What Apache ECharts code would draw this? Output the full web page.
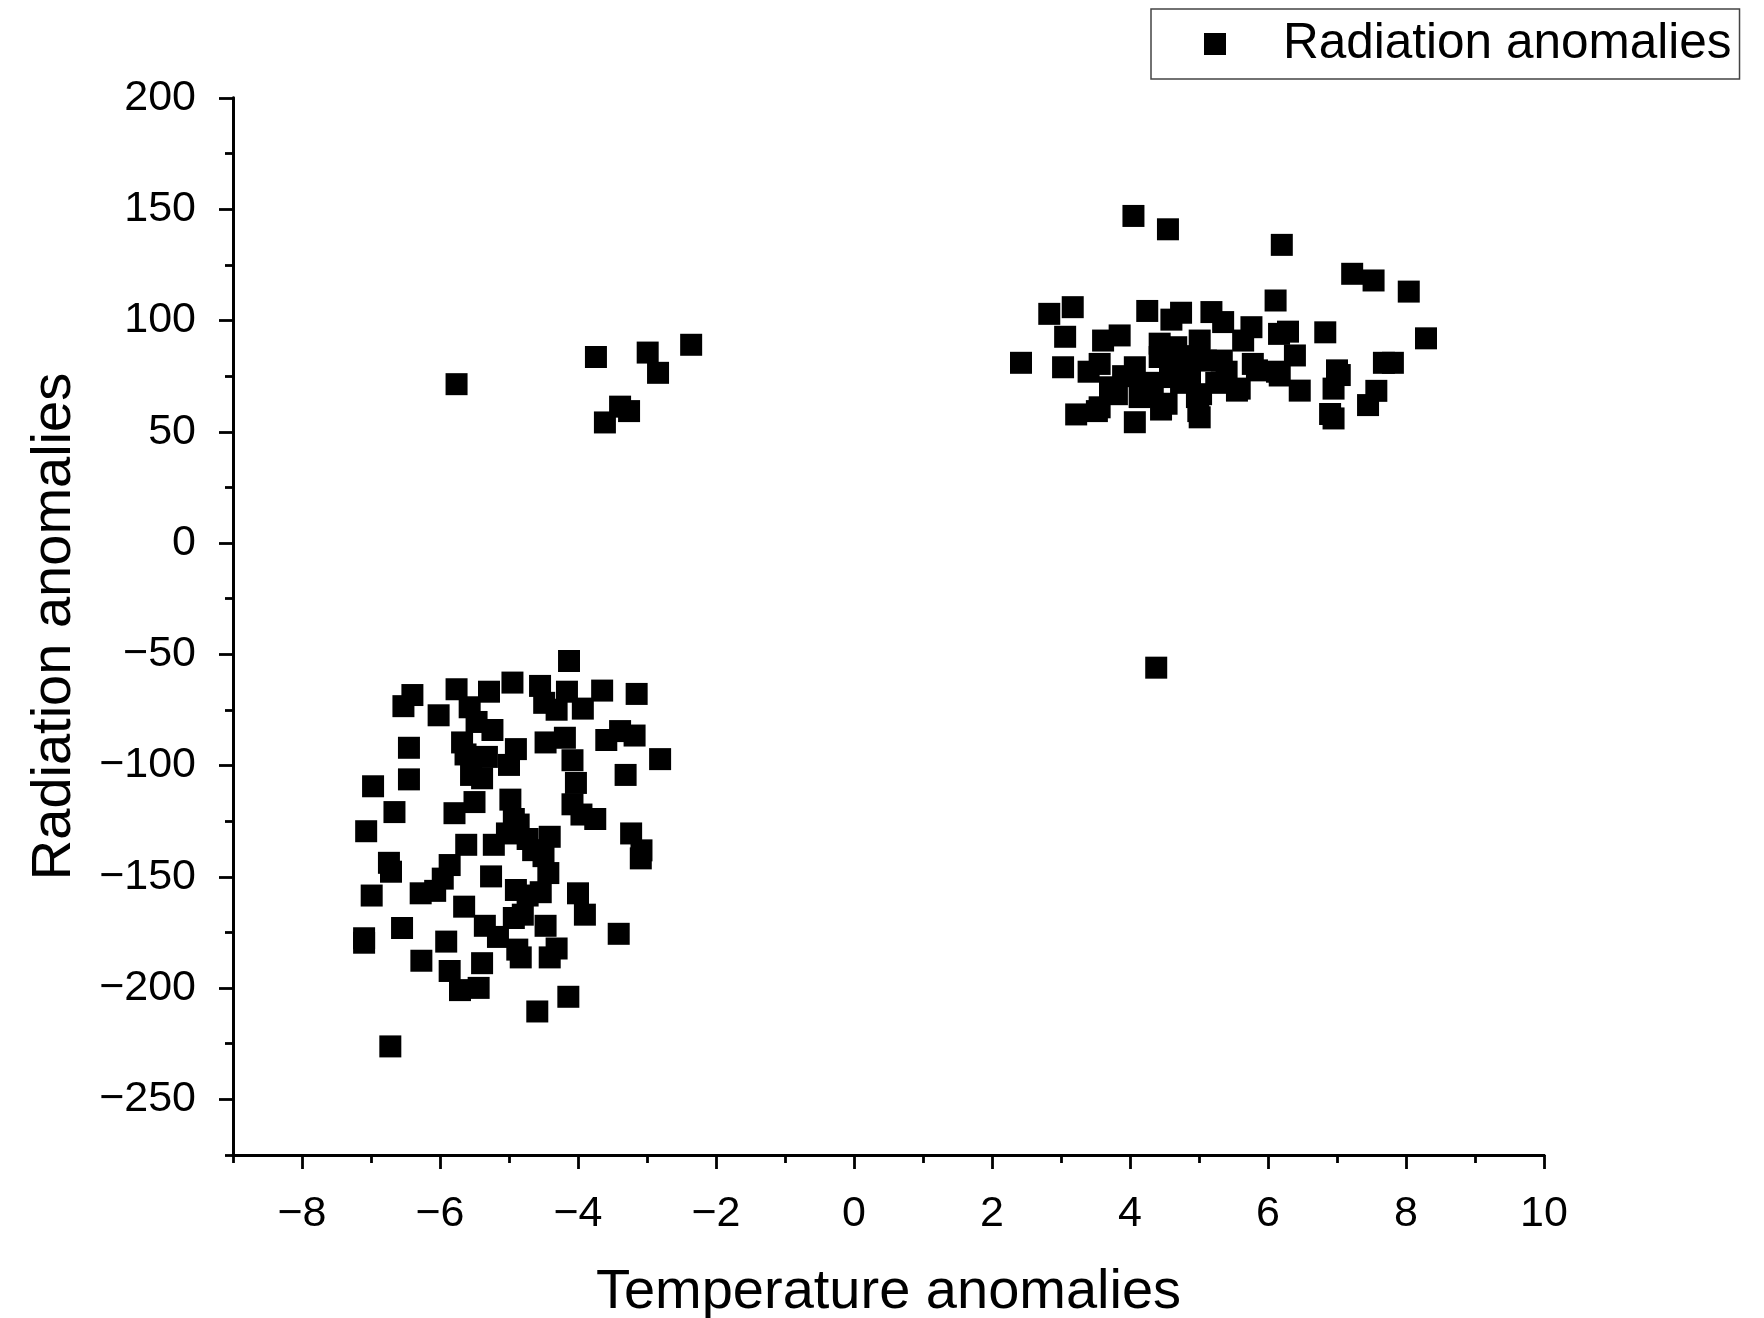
<!DOCTYPE html>
<html>
<head>
<meta charset="utf-8">
<script src="https://cdn.jsdelivr.net/npm/echarts@6/dist/echarts.min.js"></script>
<style>html,body{margin:0;padding:0;background:#fff;}#c{width:1764px;height:1318px;}</style>
</head>
<body>
<div id="c"></div>
<script>
// ---- data: [temperature anomaly, radiation anomaly] ----
const upperRightCluster = [
  [4.05,147],[4.55,141],[6.2,134],[7.22,121],[7.53,118],[8.04,113],[8.29,92],[2.42,81],
  [2.83,103],[3.17,106],[3.06,92.7],[3.03,79],[4.25,104.3],[4.74,103.5],[5.18,103.8],[5.35,99.3],
  [4.6,100.4],[5.76,97],[6.11,109],[6.16,94],[6.29,95],[6.83,94.7],[3.61,91],[3.85,93.3],
  [4.43,89.6],[4.67,88],[5.01,91],[5.64,91],[5.78,80.5],[6.39,84.3],[6.17,75.3],[6.46,68.5],
  [7.0,77.6],[7.04,75.5],[6.9,58],[6.95,56],[7.68,81],[7.81,81],[7.57,68.4],[7.45,62],
  [3.56,80.5],[3.56,61],[3.71,70],[4.07,79],[4.14,65.6],[4.07,54.3],[4.43,83.6],[4.58,74.6],
  [4.53,62.6],[4.87,76],[4.97,65.6],[5.01,56.5],[5.33,82],[5.55,68.5],[5.84,77.6],[3.22,57.8],
  [3.52,59.3],[3.4,77],[4.33,66],[4.74,72],[5.1,82],[5.4,77],[5.59,69.4],[6.13,77],
  [6.95,69.4],[4.17,70.4],[3.81,66.9],[5.03,66.9],[4.99,59.3],[4.66,80],[4.3,72],
  [4.9,84],[5.25,72],[4.45,60],[3.9,75]
];
const lowerRightOutlier = [[4.38,-56]];
const upperLeftGroup = [
  [-5.76,71.4],[-3.74,83.6],[-2.99,85.6],[-2.84,76.5],[-2.36,89.1],[-3.39,61.3],[-3.26,59.3],[-3.61,54.2]
];
const lowerLeftCluster = [
  [-4.13,-53],[-4.95,-62.7],[-4.55,-64.2],[-5.29,-66.8],[-5.76,-65.7],[-6.40,-68.3],[-6.53,-73.3],
  [-6.02,-77.4],[-5.57,-73.8],[-5.47,-80.4],[-5.24,-84],[-4.16,-66.8],[-4.49,-71.8],[-4.31,-74.9],
  [-3.93,-74.4],[-3.65,-66.3],[-3.15,-67.8],[-3.18,-86.5],[-3.39,-84.5],[-3.59,-88.5],[-2.81,-97.1],
  [-4.47,-89.6],[-4.19,-87.5],[-4.08,-97.6],[-4.03,-107.8],[-5.68,-89.6],[-5.63,-95],[-5.55,-104.2],
  [-5.32,-96.1],[-4.9,-92.6],[-5.0,-99.7],[-5.39,-105.7],[-6.45,-92],[-6.45,-106.2],[-6.97,-109.3],
  [-3.31,-104.2],[-5.79,-121.4],[-5.5,-116.4],[-6.66,-120.9],[-7.07,-129.5],[-4.98,-115.3],[-4.93,-124],
  [-4.08,-117.4],[-3.95,-122],[-3.75,-124],[-3.23,-130.5],[-3.08,-138.1],[-3.09,-141.7],[-5.62,-135.6],
  [-5.22,-135.6],[-5.03,-130.5],[-4.86,-126.5],[-4.73,-133],[-4.41,-132],[-4.65,-138],[-4.5,-140.7],
  [-4.43,-148.3],[-5.86,-144.7],[-5.96,-150.8],[-6.74,-143.7],[-6.71,-147.7],[-6.99,-158.4],[-6.28,-157.4],
  [-6.07,-156.3],[-5.26,-149.8],[-4.9,-155.9],[-4.73,-158.4],[-4.54,-156.9],[-4.0,-157.4],[-5.65,-163.4],
  [-5.35,-172],[-5.16,-177],[-4.93,-168.5],[-4.8,-167],[-4.47,-172],[-3.9,-167],[-3.41,-175.6],
  [-6.55,-173],[-7.1,-177.6],[-7.1,-179.6],[-5.91,-179.1],[-6.27,-187.7],[-4.88,-182.7],[-4.83,-186.2],
  [-4.31,-182.2],[-4.41,-186.2],[-5.39,-188.8],[-5.86,-192.3],[-5.71,-200.9],[-5.44,-199.9],[-4.14,-203.9],
  [-4.59,-210.5],[-6.72,-226.2]
];
const xMajorTicks = [-8,-6,-4,-2,0,2,4,6,8,10];
const xMinorTicks = [-9,-7,-5,-3,-1,1,3,5,7,9];
const yMajorTicks = [-250,-200,-150,-100,-50,0,50,100,150,200];
const yMinorTicks = [-275,-225,-175,-125,-75,-25,25,75,125,175];
const seriesName = 'Radiation anomalies';
const xTitle = 'Temperature anomalies';
const yTitle = 'Radiation anomalies';

const allPoints = [].concat(upperRightCluster, lowerRightOutlier, upperLeftGroup, lowerLeftCluster);
const FONT = "'Liberation Sans', Arial, sans-serif";
const fmt = v => (v < 0 ? '\u2212' + Math.abs(v) : String(v));
const lineStyle = { color: '#000', width: 2.8 };

const chart = echarts.init(document.getElementById('c'), null, { renderer: 'canvas' });
chart.setOption({
  animation: false,
  backgroundColor: '#fff',
  grid: { left: 233, right: 220, top: 98, bottom: 163, containLabel: false, outerBoundsMode: 'none' },
  legend: {
    left: 1151, top: 9,
    orient: 'horizontal',
    borderColor: '#444', borderWidth: 1.5, borderRadius: 0,
    padding: [10, 8, 10, 53],
    itemWidth: 22, itemHeight: 22,
    icon: 'rect',
    textStyle: { fontSize: 49.5, color: '#000', fontFamily: FONT, padding: [0, 0, 0, 52] },
    data: [seriesName]
  },
  xAxis: [{
    type: 'value', min: -9, max: 10,
    name: xTitle, nameLocation: 'middle', nameGap: 110,
    nameTextStyle: { fontSize: 56, color: '#000', fontFamily: FONT },
    axisLine: { show: true, onZero: false, lineStyle },
    axisTick: { show: true, length: 14, customValues: xMajorTicks, lineStyle },
    axisLabel: { show: true, customValues: xMajorTicks, formatter: fmt, fontSize: 43, color: '#000', fontFamily: FONT, margin: 38 },
    splitLine: { show: false }
  }, {
    type: 'value', min: -9, max: 10, position: 'bottom',
    axisLine: { show: true, onZero: false, lineStyle },
    axisTick: { show: true, length: 8, customValues: xMinorTicks, lineStyle },
    axisLabel: { show: false },
    splitLine: { show: false }
  }],
  yAxis: [{
    type: 'value', min: -275, max: 200,
    name: yTitle, nameLocation: 'middle', nameGap: 150,
    nameTextStyle: { fontSize: 56, color: '#000', fontFamily: FONT },
    axisLine: { show: true, onZero: false, lineStyle },
    axisTick: { show: true, length: 14, customValues: yMajorTicks, lineStyle },
    axisLabel: { show: true, customValues: yMajorTicks, formatter: fmt, fontSize: 43, color: '#000', fontFamily: FONT, margin: 37 },
    splitLine: { show: false }
  }, {
    type: 'value', min: -275, max: 200, position: 'left',
    axisLine: { show: true, onZero: false, lineStyle },
    axisTick: { show: true, length: 8, customValues: yMinorTicks, lineStyle },
    axisLabel: { show: false },
    splitLine: { show: false }
  }],
  series: [{
    name: seriesName,
    type: 'scatter',
    xAxisIndex: 0, yAxisIndex: 0,
    symbol: 'rect',
    symbolSize: 22,
    itemStyle: { color: '#000', opacity: 1 },
    data: allPoints
  }]
});
</script>
</body>
</html>
